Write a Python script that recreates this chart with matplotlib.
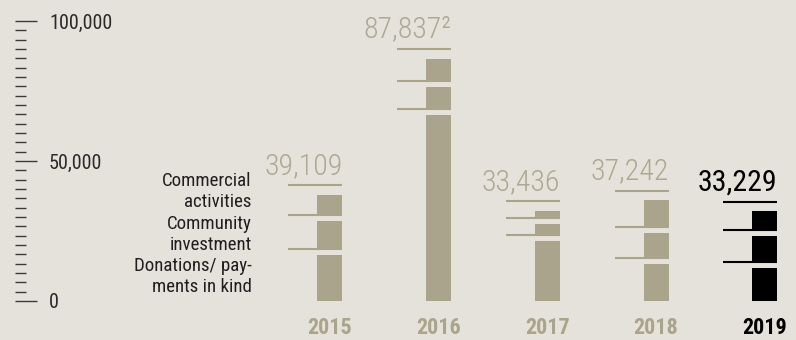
import matplotlib
matplotlib.use("Agg")
import matplotlib.pyplot as plt
from matplotlib.ticker import MultipleLocator, FixedLocator, FuncFormatter

# Corporate citizenship spending, EUR thousand
years = ["2015", "2016", "2017", "2018", "2019"]
totals = [39109, 87837, 33436, 37242, 33229]
total_labels = ["39,109", "87,837²", "33,436", "37,242", "33,229"]
donations = [18600, 68500, 23700, 15500, 14000]
community = [12000, 9900, 6000, 11100, 11300]
commercial = [8509, 9437, 3736, 10642, 7929]
segment_names = ["Commercial\nactivities", "Community\ninvestment", "Donations/ pay-\nments in kind"]

BG = "#E5E2DB"
TAUPE = "#A9A48B"
TAUPE_TXT = "#ADA892"
DARK = "#1E1E1E"
FONT = ["Roboto Condensed", "Roboto", "DejaVu Sans"]
plt.rcParams["font.family"] = FONT

W, H = 796, 340
fig = plt.figure(figsize=(W / 100, H / 100), dpi=100, facecolor=BG)

# Main plotting area: category spacing ~108.75 px, first bar centred at ~330 px
step_px = 108.75
x0_px = 329.8
ax = fig.add_axes([0, 39 / H, 1, 280 / H])
ax.set_facecolor("none")
ax.set_xlim(-x0_px / step_px, (W - x0_px) / step_px)
ax.set_ylim(0, 100000)
ax.axis("off")

px_per_unit_y = 280 / 100000
gap = 6 / px_per_unit_y          # white gap between stacked pieces
top_cut = 3.5 / px_per_unit_y    # trim of the topmost piece
top_rule = 6 / px_per_unit_y     # rule sitting above the total
half_w = 12.5 / step_px
rule_left = 41.5 / step_px

for i, yr in enumerate(years):
    col = "black" if i == len(years) - 1 else TAUPE
    pieces = [donations[i], community[i], commercial[i]]
    bottom = 0
    for k, v in enumerate(pieces):
        trim = top_cut if k == len(pieces) - 1 else gap
        ax.bar(i, v - trim, bottom=bottom, width=2 * half_w, color=col,
               linewidth=0, clip_on=False)
        bottom += v
        if k < len(pieces) - 1:
            ax.hlines(bottom, i - rule_left, i + half_w, color=col, lw=1.5,
                      clip_on=False)
    ax.hlines(totals[i] + top_rule, i - rule_left, i + half_w, color=col,
              lw=1.5, clip_on=False)

    last = i == len(years) - 1
    ax.annotate(total_labels[i], xy=(i + half_w, totals[i] + top_rule),
                xytext=(0, 8.3), textcoords="offset points",
                ha="right", va="baseline", fontsize=21.5,
                fontweight="normal" if last else "light",
                color="black" if last else TAUPE_TXT, annotation_clip=False)
    ax.annotate(yr, xy=(i, 0), xytext=(0, -24.0), textcoords="offset points",
                ha="center", va="baseline", fontsize=15.8, fontweight="bold",
                color="black" if last else TAUPE, annotation_clip=False)

# Category labels to the left of the first bar
line_baselines = [185.7, 206.9, 228.6, 250.3, 271.0, 291.7]
lines = [ln for name in segment_names for ln in name.split("\n")]
for ln, yb in zip(lines, line_baselines):
    fig.text(251.7 / W, 1 - yb / H, ln, ha="right", va="baseline",
             fontsize=13.6, color=DARK)

# Value scale drawn as ticks on a hairline axis at the far left
sax = fig.add_axes([14 / W, 39 / H, 1 / W, 280 / H], sharey=ax)
sax.set_facecolor("none")
for s in sax.spines.values():
    s.set_visible(False)
sax.xaxis.set_visible(False)
sax.yaxis.tick_right()
sax.yaxis.set_major_locator(FixedLocator([0, 50000, 100000]))
sax.yaxis.set_minor_locator(MultipleLocator(100000 / 30))
sax.yaxis.set_major_formatter(FuncFormatter(lambda v, p: f"{int(v):,}"))
sax.tick_params(axis="y", which="major", direction="out", length=15.6,
                width=1.0, color="#3A3A3A", pad=8.9, labelsize=14.5,
                labelcolor="#2A2A2A")
sax.tick_params(axis="y", which="minor", direction="out", length=8.0,
                width=1.0, color="#3A3A3A")
sax.set_ylim(0, 100000)

fig.savefig("out.png", dpi=100, facecolor=BG)
